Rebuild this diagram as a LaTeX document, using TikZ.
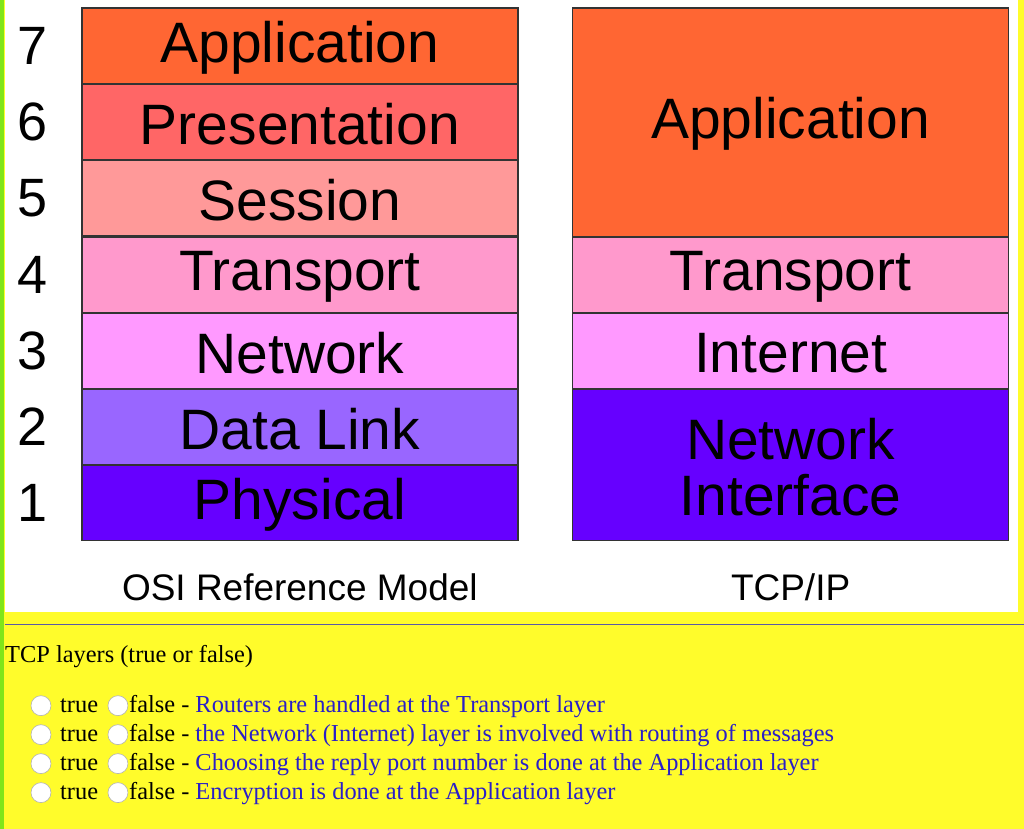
\documentclass[tikz,border=0pt]{standalone}
\usepackage{fontspec}
\setmainfont{Liberation Serif}
\newfontfamily\arial{Liberation Sans}
\begin{document}
\begin{tikzpicture}[x=1pt,y=-1pt,
 lay/.style={draw=black!80,line width=1.5pt},
 ltxt/.style={font=\arial\fontsize{57}{60}\selectfont},
 num/.style={font=\arial\fontsize{54}{58}\selectfont},
 captxt/.style={font=\arial\fontsize{37}{40}\selectfont},
 q/.style={font=\fontsize{24.4}{28}\selectfont,anchor=base west,inner sep=0pt},
 radio/.style={draw=black!30,fill=white,line width=0.6pt}]
\definecolor{bg}{HTML}{FFFC2B}
\definecolor{qb}{HTML}{2A1FC8}
\fill[bg] (0,0) rectangle (1024,829);
\fill[green!50!yellow!80!gray] (0,0) rectangle (4,829);
\fill[white] (5,0) rectangle (1018,612);
\draw[gray!70!blue,line width=1pt] (5,625) -- (1024,625);
% OSI
\foreach \y/\t/\c [count=\i] in {8/Application/FF6633,84/Presentation/FF6666,160/Session/FF9999,237/Transport/FF99CC,313/Network/FF99FF,389/Data Link/9966FF,465/Physical/6600FF}{
 \definecolor{cc}{HTML}{\c}
 \draw[lay,fill=cc] (82,\y) rectangle (518,\y+76);
 \node[ltxt] (o\i) at (300,\y+40) {\t};
}
\foreach \n/\y in {7/46,6/122,5/198,4/275,3/351,2/427,1/503}
 \node[num] (n\n) at (33,\y) {\n};
% TCP
\definecolor{c1}{HTML}{FF6633}\definecolor{c2}{HTML}{FF99CC}\definecolor{c3}{HTML}{FF99FF}\definecolor{c4}{HTML}{6600FF}
\draw[lay,fill=c1] (573,8) rectangle (1009,237);
\draw[lay,fill=c2] (573,237) rectangle (1009,313);
\draw[lay,fill=c3] (573,313) rectangle (1009,389);
\draw[lay,fill=c4] (573,389) rectangle (1009,541);
\node[ltxt] (t1) at (791,124) {Application};
\node[ltxt] (t2) at (791,277) {Transport};
\node[ltxt] (t3) at (791,353) {Internet};
\node[ltxt,align=center] (t4) at (791,467) {Network\\[-4pt]Interface};
\node[captxt] (l1) at (300,588) {OSI Reference Model};
\node[captxt] (l2) at (791,588) {TCP/IP};
% questions
\node[q] (h) at (5,663) {TCP layers (true or false)};
\foreach \y/\t [count=\i] in {713/Routers are handled at the Transport layer,742/the Network (Internet) layer is involved with routing of messages,771/Choosing the reply port number is done at the Application layer,800/Encryption is done at the Application layer}{
 \draw[radio] (41,\y-7) circle (10);
 \draw[radio] (118,\y-7) circle (10);
 \node[q] (tr\i) at (60,\y) {true};
 \node[q] (fa\i) at (129,\y) {false - \textcolor{qb}{\t}};
}
\end{tikzpicture}
\end{document}
